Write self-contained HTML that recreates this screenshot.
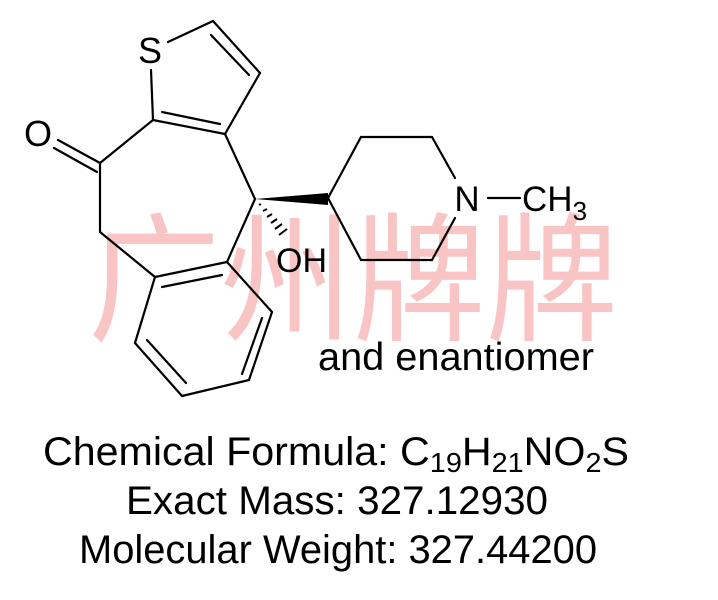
<!DOCTYPE html>
<html><head><meta charset="utf-8"><style>
html,body{margin:0;padding:0;background:#fff;}
svg{display:block;}
</style></head><body>
<svg width="718" height="600" viewBox="0 0 718 600" xmlns="http://www.w3.org/2000/svg">
<g font-family="Liberation Sans, Noto Sans CJK SC, sans-serif">
<text x="88" y="330" font-size="140" fill="#f9c4c4" textLength="530" lengthAdjust="spacingAndGlyphs" font-family="Noto Sans CJK SC, sans-serif">广州牌牌</text>
</g>
<g stroke="#000" stroke-width="2.2" fill="none" stroke-linecap="round">
<line x1="168" y1="42" x2="213" y2="21"/>
<line x1="213" y1="21" x2="260" y2="73"/>
<line x1="211" y1="35" x2="249" y2="75"/>
<line x1="260" y1="73" x2="225" y2="134"/>
<line x1="153" y1="120" x2="225" y2="134"/>
<line x1="162" y1="112" x2="220" y2="124"/>
<line x1="153" y1="120" x2="151" y2="70"/>
<line x1="153" y1="120" x2="100" y2="163"/>
<line x1="100" y1="163" x2="58" y2="140"/>
<line x1="97" y1="172" x2="54" y2="148"/>
<line x1="100" y1="163" x2="100" y2="232"/>
<line x1="100" y1="232" x2="155" y2="277"/>
<line x1="225" y1="134" x2="255" y2="199"/>
<line x1="255" y1="199" x2="227" y2="262"/>
<line x1="155" y1="277" x2="227" y2="262"/>
<line x1="162" y1="287" x2="222" y2="275"/>
<line x1="227" y1="262" x2="272" y2="312"/>
<line x1="272" y1="312" x2="249" y2="380"/>
<line x1="262" y1="318" x2="242" y2="374"/>
<line x1="249" y1="380" x2="182" y2="396"/>
<line x1="182" y1="396" x2="135" y2="343"/>
<line x1="186" y1="383" x2="147" y2="340"/>
<line x1="135" y1="343" x2="155" y2="277"/>
<line x1="328" y1="198" x2="361" y2="137"/>
<line x1="361" y1="137" x2="432" y2="137"/>
<line x1="432" y1="137" x2="455" y2="178"/>
<line x1="455" y1="218" x2="432" y2="260"/>
<line x1="432" y1="260" x2="361" y2="260"/>
<line x1="361" y1="260" x2="328" y2="198"/>
<line x1="488" y1="198" x2="520" y2="198"/>
</g>
<polygon points="255,199 328,193 328,205" fill="#000"/>
<g stroke="#000" stroke-width="2">
<line x1="259" y1="205" x2="261" y2="204"/>
<line x1="263" y1="211" x2="267" y2="209"/>
<line x1="267" y1="217" x2="272" y2="214"/>
<line x1="271" y1="223" x2="277" y2="219"/>
<line x1="275" y1="229" x2="282" y2="224"/>
<line x1="279" y1="235" x2="287" y2="229"/>
</g>
<g font-family="Liberation Sans, sans-serif" fill="#000">
<text x="150" y="63" font-size="36" text-anchor="middle">S</text>
<text x="38" y="146" font-size="36" text-anchor="middle">O</text>
<text x="276" y="272" font-size="34">OH</text>
<text x="467" y="211" font-size="35" text-anchor="middle">N</text>
<text x="522" y="211" font-size="35">CH<tspan font-size="26" dy="9">3</tspan></text>
<text x="318" y="370" font-size="39" textLength="276" lengthAdjust="spacingAndGlyphs">and enantiomer</text>
<text x="43" y="465" font-size="40" textLength="586" lengthAdjust="spacingAndGlyphs">Chemical Formula: C<tspan font-size="28" dy="7">19</tspan><tspan dy="-7">H</tspan><tspan font-size="28" dy="7">21</tspan><tspan dy="-7">NO</tspan><tspan font-size="28" dy="7">2</tspan><tspan dy="-7">S</tspan></text>
<text x="126" y="514" font-size="40" textLength="422" lengthAdjust="spacingAndGlyphs">Exact Mass: 327.12930</text>
<text x="79" y="563" font-size="40" textLength="518" lengthAdjust="spacingAndGlyphs">Molecular Weight: 327.44200</text>
</g>
</svg>
</body></html>
